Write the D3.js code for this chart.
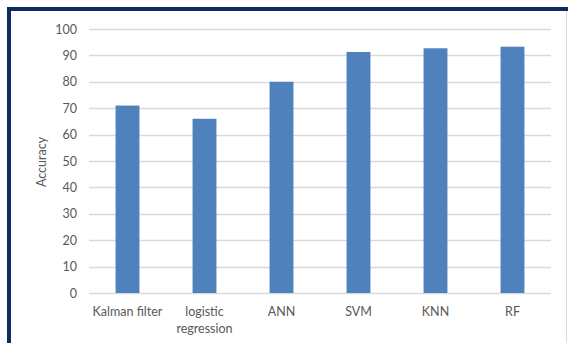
<!DOCTYPE html>
<html>
<head>
<meta charset="utf-8">
<script src="https://cdn.jsdelivr.net/npm/d3@7"></script>
<style>
  html, body { margin: 0; padding: 0; background: #fff; }
  svg { display: block; }
  text { font-family: Lato, "Open Sans", sans-serif; fill: #595959; }
</style>
</head>
<body>
<svg id="chart" width="568" height="343"></svg>
<script>
// Classifier accuracy (%)
const categories = ["Kalman filter", "logistic regression", "ANN", "SVM", "KNN", "RF"];
const accuracy = [71, 66, 80, 91.3, 92.7, 93.3];
const yTicks = [0, 10, 20, 30, 40, 50, 60, 70, 80, 90, 100];

const svg = d3.select("#chart");
const W = 568, H = 343;
const margin = { left: 89, right: 17, top: 29, bottom: 50 };

// frame
svg.append("rect").attr("x", 0).attr("y", 0).attr("width", W).attr("height", H).attr("fill", "#fff");
svg.append("line").attr("x1", 566.5).attr("x2", 566.5).attr("y1", 11).attr("y2", H)
  .attr("stroke", "#d9d9d9").attr("stroke-width", 1);
svg.append("line").attr("x1", 9).attr("x2", W).attr("y1", 9).attr("y2", 9)
  .attr("stroke", "#0d2a63").attr("stroke-width", 4);
svg.append("line").attr("x1", 9).attr("x2", 9).attr("y1", 7).attr("y2", H)
  .attr("stroke", "#0d2a63").attr("stroke-width", 4);

const x = d3.scaleBand().domain(categories)
  .range([margin.left, W - margin.right]).paddingInner(0.69).paddingOuter(0.345);
const y = d3.scaleLinear().domain([0, 100]).range([293, margin.top]);

// gridlines
svg.append("g").selectAll("line").data(yTicks).join("line")
  .attr("x1", margin.left).attr("x2", W - margin.right)
  .attr("y1", d => Math.round(y(d)) + 0.5).attr("y2", d => Math.round(y(d)) + 0.5)
  .attr("stroke", "#d9d9d9").attr("stroke-width", 1.3);

// y axis labels
const yAxis = d3.axisLeft(y).tickValues(yTicks).tickSize(0).tickPadding(12);
const gy = svg.append("g").attr("transform", `translate(${margin.left},0)`).call(yAxis);
gy.select(".domain").remove();
gy.selectAll("text").attr("font-size", 12.5).attr("fill", "#595959")
  .style("font-family", "Lato, 'Open Sans', sans-serif");

// bars
svg.append("g").selectAll("rect").data(categories).join("rect")
  .attr("x", d => x(d)).attr("width", x.bandwidth())
  .attr("y", (d, i) => y(accuracy[i]))
  .attr("height", (d, i) => y(0) - y(accuracy[i]))
  .attr("fill", "#4f81bd");

// x axis labels
const xAxis = d3.axisBottom(x).tickSize(0).tickPadding(0);
const gx = svg.append("g").attr("transform", `translate(0,${y(0)})`).call(xAxis);
gx.select(".domain").remove();
gx.selectAll("text").each(function(d) {
  const t = d3.select(this);
  t.text(null).attr("y", 0).attr("dy", 0)
    .attr("font-size", 12.5).attr("fill", "#595959")
    .style("font-family", "Lato, 'Open Sans', sans-serif");
  const lines = d === "logistic regression" ? ["logistic", "regression"] : [d];
  lines.forEach((ln, k) => {
    t.append("tspan").attr("x", 0).attr("y", 23 + k * 16.5).text(ln);
  });
});

// y axis title
svg.append("text")
  .attr("transform", `translate(46,${(y(0) + y(100)) / 2 + 1}) rotate(-90)`)
  .attr("text-anchor", "middle").attr("font-size", 12.5)
  .text("Accuracy");
</script>
</body>
</html>
